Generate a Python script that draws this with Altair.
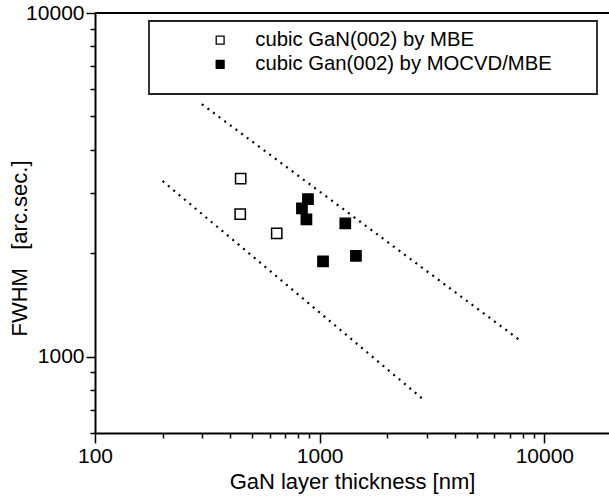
import altair as alt
import pandas as pd

# data
mbe_x = [445, 443, 644]
mbe_y = [3300, 2600, 2285]
mocvd_x = [887, 834, 873, 1300, 1035, 1450]
mocvd_y = [2875, 2700, 2510, 2445, 1895, 1965]
series_names = ["cubic GaN(002) by MBE", "cubic Gan(002) by MOCVD/MBE"]

upper_x = [299, 7780]
upper_y = [5430, 1117]
lower_x = [200, 2960]
lower_y = [3245, 742]

x_ticks = [100, 200, 300, 400, 500, 600, 700, 800, 900, 1000,
           2000, 3000, 4000, 5000, 6000, 7000, 8000, 9000, 10000]
y_ticks = [600, 700, 800, 900, 1000, 2000, 3000, 4000, 5000,
           6000, 7000, 8000, 9000, 10000]
major = "datum.value == 100 || datum.value == 1000 || datum.value == 10000"

FONT = "Liberation Sans"
W, H = 514, 420

pts = pd.DataFrame({
    "x": mbe_x + mocvd_x,
    "y": mbe_y + mocvd_y,
    "s": [series_names[0]] * len(mbe_x) + [series_names[1]] * len(mocvd_x),
})
lines = pd.DataFrame({
    "x": upper_x + lower_x,
    "y": upper_y + lower_y,
    "g": ["upper"] * 2 + ["lower"] * 2,
})

xscale = alt.Scale(type="log", domain=[100, 19400], nice=False)
yscale = alt.Scale(type="log", domain=[600, 10000], nice=False)

xaxis = alt.Axis(
    values=x_ticks, format="d", grid=False,
    labelExpr=f"({major}) ? datum.label : ''",
    tickSize={"condition": {"test": major, "value": 10}, "value": 5},
    tickWidth=1.5, tickColor="black", domainColor="black", domainWidth=2,
    labelFont=FONT, labelFontSize=21, labelColor="black",
    labelBaseline="alphabetic", labelPadding=19, labelFlush=False,
    labelOverlap=False,
    title="GaN layer thickness [nm]", titleFont=FONT, titleFontSize=22,
    titleFontWeight="normal", titleColor="black",
    titleX=257, titleY=55, titleBaseline="alphabetic", titleAlign="center",
)
yaxis = alt.Axis(
    values=y_ticks, format="d", grid=False,
    labelExpr=f"({major}) ? datum.label : ''",
    tickSize={"condition": {"test": major, "value": 9}, "value": 5},
    tickWidth=1.5, tickColor="black", domainColor="black", domainWidth=2,
    labelFont=FONT, labelFontSize=21, labelColor="black",
    labelPadding=2, labelFlush=False, labelOverlap=False,
    title="FWHM\u00a0\u00a0\u00a0[arc.sec.]", titleFont=FONT, titleFontSize=22,
    titleFontWeight="normal", titleColor="black",
    titleAngle=270, titleX=-69, titleY=235, titleBaseline="alphabetic",
    titleAlign="center",
)

box = alt.Chart(pd.DataFrame({"a": [0]})).mark_rect(
    fill="white", stroke="#222222", strokeWidth=1.8
).encode(
    x=alt.value(54), x2=alt.value(502), y=alt.value(8), y2=alt.value(81)
)

top = alt.Chart(pd.DataFrame({"a": [0]})).mark_rule(
    color="black", strokeWidth=2
).encode(x=alt.value(0), x2=alt.value(W), y=alt.value(0))

dotted = alt.Chart(lines).mark_line(
    color="black", strokeWidth=2.2, strokeDash=[2, 5], clip=True
).encode(
    x=alt.X("x:Q", scale=xscale, axis=xaxis),
    y=alt.Y("y:Q", scale=yscale, axis=yaxis),
    detail="g:N",
)

points = alt.Chart(pts).mark_point(
    shape="square", filled=True, size=105, stroke="black", strokeWidth=1.5,
    opacity=1,
).encode(
    x=alt.X("x:Q", scale=xscale, axis=xaxis),
    y=alt.Y("y:Q", scale=yscale, axis=yaxis),
    fill=alt.Fill(
        "s:N",
        scale=alt.Scale(domain=series_names, range=["white", "black"]),
        legend=alt.Legend(
            title=None, orient="none", legendX=115, legendY=17,
            symbolType="square", symbolSize=62, symbolStrokeColor="black",
            symbolStrokeWidth=1.3, symbolOpacity=1,
            labelFont=FONT, labelFontSize=20.3, labelColor="black",
            labelOffset=25, rowPadding=3.2, padding=0, labelLimit=0,
        ),
    ),
)

chart = alt.layer(box, top, dotted, points).properties(
    width=W, height=H,
    autosize=alt.AutoSizeParams(type="none"),
    padding={"left": 95, "top": 13, "right": 0, "bottom": 63},
).configure_view(stroke=None).configure(background="white")

chart.save("out.html", embed_options={"renderer": "svg", "actions": False})
